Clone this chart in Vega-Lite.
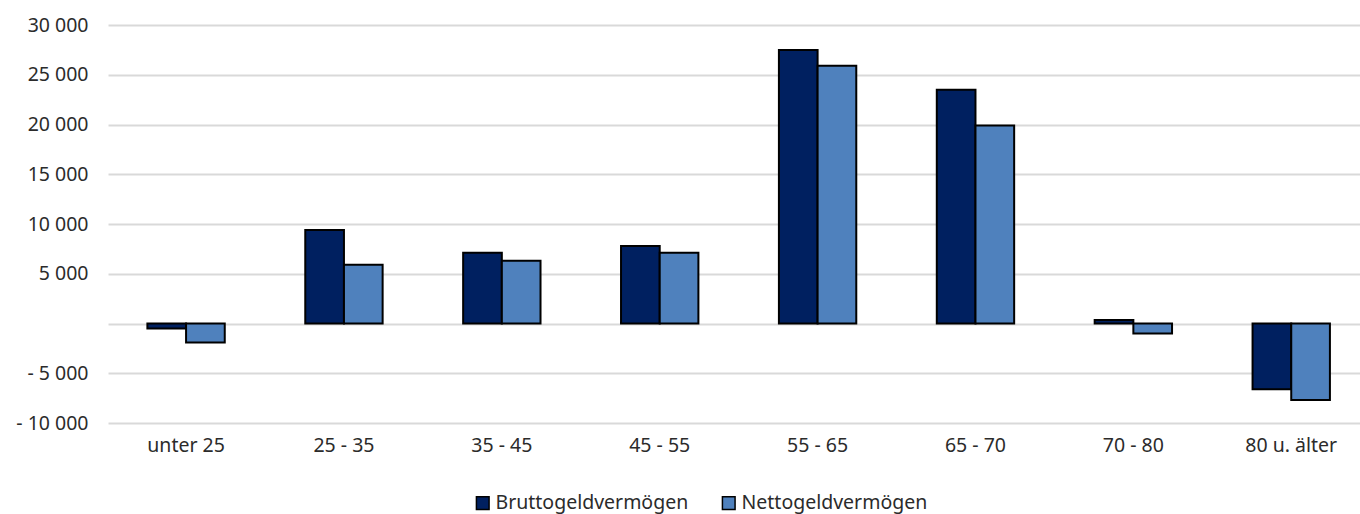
{
  "$schema": "https://vega.github.io/schema/vega-lite/v6.json",
  "autosize": "none",
  "width": 1252,
  "height": 398,
  "padding": {"left": 108, "top": 25, "right": 0, "bottom": 91},
  "background": "white",
  "config": {
    "view": {"stroke": null},
    "font": "Noto Sans",
    "axis": {"labelFont": "Noto Sans", "labelFontSize": 19.5, "labelColor": "#2b2b2b"},
    "legend": {"labelFont": "Noto Sans", "labelFontSize": 19.5, "labelColor": "#2b2b2b"}
  },
  "data": {
    "values": [
      {"age": "unter 25", "series": "Bruttogeldvermögen", "value": -500},
      {"age": "unter 25", "series": "Nettogeldvermögen", "value": -1900},
      {"age": "25 - 35", "series": "Bruttogeldvermögen", "value": 9400},
      {"age": "25 - 35", "series": "Nettogeldvermögen", "value": 5900},
      {"age": "35 - 45", "series": "Bruttogeldvermögen", "value": 7100},
      {"age": "35 - 45", "series": "Nettogeldvermögen", "value": 6300},
      {"age": "45 - 55", "series": "Bruttogeldvermögen", "value": 7800},
      {"age": "45 - 55", "series": "Nettogeldvermögen", "value": 7100},
      {"age": "55 - 65", "series": "Bruttogeldvermögen", "value": 27500},
      {"age": "55 - 65", "series": "Nettogeldvermögen", "value": 25900},
      {"age": "65 - 70", "series": "Bruttogeldvermögen", "value": 23500},
      {"age": "65 - 70", "series": "Nettogeldvermögen", "value": 19900},
      {"age": "70 - 80", "series": "Bruttogeldvermögen", "value": 350},
      {"age": "70 - 80", "series": "Nettogeldvermögen", "value": -1000},
      {"age": "80 u. älter", "series": "Bruttogeldvermögen", "value": -6600},
      {"age": "80 u. älter", "series": "Nettogeldvermögen", "value": -7700}
    ]
  },
  "mark": {"type": "bar", "stroke": "black", "strokeWidth": 2},
  "encoding": {
    "x": {
      "field": "age",
      "type": "nominal",
      "sort": null,
      "scale": {"paddingInner": 0.51, "paddingOuter": 0.22, "align": 0.567},
      "axis": {"title": null, "labelAngle": 0, "ticks": false, "domain": false, "labelPadding": 13, "grid": false}
    },
    "xOffset": {"field": "series", "type": "nominal", "scale": {"paddingInner": 0, "paddingOuter": 0}},
    "y": {
      "field": "value",
      "type": "quantitative",
      "scale": {"domain": [-10000, 30000], "nice": false},
      "axis": {
        "title": null,
        "values": [-10000, -5000, 0, 5000, 10000, 15000, 20000, 25000, 30000],
        "domain": false,
        "ticks": false,
        "labelPadding": 20,
        "gridColor": "#d9d9d9",
        "gridWidth": 2,
        "labelExpr": "datum.value == 0 ? '' : (datum.value < 0 ? '- ' : '') + replace(format(abs(datum.value), ','), ',', ' ')"
      }
    },
    "color": {
      "field": "series",
      "type": "nominal",
      "scale": {"domain": ["Bruttogeldvermögen", "Nettogeldvermögen"], "range": ["#002060", "#4f81bd"]},
      "legend": {
        "title": null,
        "orient": "none",
        "direction": "horizontal",
        "legendX": 365,
        "legendY": 468,
        "symbolType": "square",
        "symbolSize": 160,
        "symbolStrokeColor": "black",
        "symbolStrokeWidth": 1.5,
        "symbolOpacity": 1,
        "labelOffset": 3,
        "labelLimit": 0,
        "columnPadding": 30
      }
    }
  }
}
